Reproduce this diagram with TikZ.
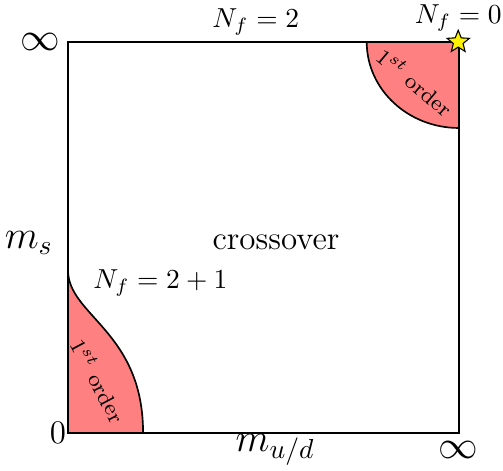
\documentclass[tikz,border=0pt]{standalone}
\usepackage{amsmath,amssymb}
\usepackage{xcolor}
\usepackage{tikz}
\usetikzlibrary{shapes.geometric}

\tikzset{
    firstorder/.style={fill=red!50, draw=black, semithick},
    regionlabel/.style={font=\footnotesize, inner sep=0pt},
}

\begin{document}
\begin{tikzpicture}
    \useasboundingbox (-0.870,-0.486) rectangle (5.563,5.537);
    % first order regions
    \filldraw[firstorder] (0,2.08) .. controls (0,1.5) and (0.96,1.3) .. (0.96,0) -- (0,0) -- cycle;
    \filldraw[firstorder] (5,5) -- (3.82,5) arc[start angle=180, end angle=270, x radius=1.18, y radius=1.1] -- cycle;
    % the square
    \draw[semithick] (0,0) rectangle (5,5);
    \node[regionlabel, rotate=-62] (fobl) at (0.39,0.67) {$1^{st}$ order};
    \node[regionlabel, rotate=-40] (fotr) at (4.44,4.49) {$1^{st}$ order};
    % axis labels
    \node[font=\Large] (infl) at (-0.36,5) {$\infty$};
    \node[font=\Large] (infr) at (4.99,-0.22) {$\infty$};
    \node[font=\large] (zero) at (-0.13,0) {$0$};
    \node[font=\Large] (ms) at (-0.5,2.43) {$m_s$};
    \node[font=\Large] (mud) at (2.65,-0.22) {$m_{u/d}$};
    % flavours
    \node (nf2) at (2.40,5.26) {$N_f=2$};
    \node (nf0) at (4.99,5.31) {$N_f=0$};
    \node (nf21) at (1.18,1.92) {$N_f=2+1$};
    \node[font=\large] (cross) at (2.66,2.44) {crossover};
    \node[star, star points=5, star point ratio=2.3, fill=yellow, draw=black, inner sep=0pt, minimum size=0.3cm] (pure) at (4.99,5) {};
\end{tikzpicture}
\end{document}
